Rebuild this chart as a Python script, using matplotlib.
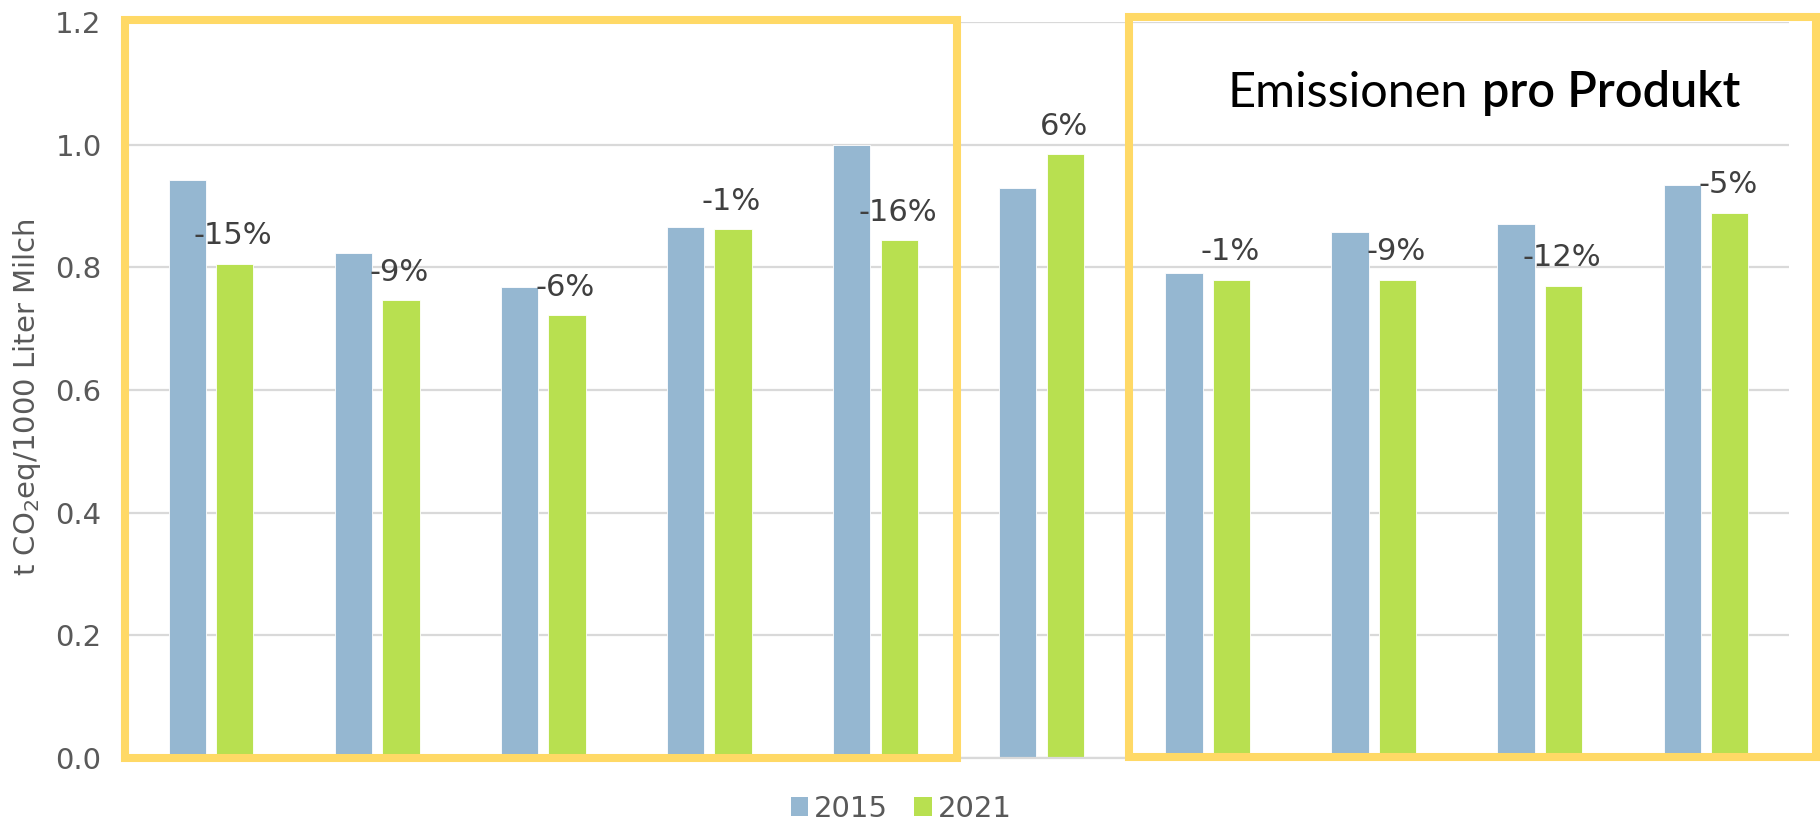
import matplotlib
matplotlib.use('Agg')
import matplotlib.pyplot as plt
from matplotlib.patches import Rectangle, Patch
import numpy as np

# ---- data ----
values_2015 = [0.942, 0.824, 0.768, 0.866, 1.000, 0.930, 0.791, 0.858, 0.870, 0.935]
values_2021 = [0.806, 0.747, 0.722, 0.862, 0.844, 0.985, 0.780, 0.780, 0.770, 0.889]
change_labels = ['-15%', '-9%', '-6%', '-1%', '-16%', '6%', '-1%', '-9%', '-12%', '-5%']
series_names = ['2015', '2021']
y_ticks = [0.0, 0.2, 0.4, 0.6, 0.8, 1.0, 1.2]
y_label = r't CO$_2$eq/1000 Liter Milch'
title_light = 'Emissionen'
title_bold = 'pro Produkt'

# ---- style ----
W, H = 1820, 824
c_blue = '#95B7D1'
c_green = '#B8E050'
c_yellow = '#FFD966'
c_grid = '#D9D9D9'
c_tick = '#595959'
c_lbl = '#404040'

fig = plt.figure(figsize=(W / 100, H / 100), dpi=100)
ax = fig.add_axes([128 / W, 1 - 758 / H, (1789 - 128) / W, (758 - 22) / H])

x = np.arange(len(values_2015))
bw = 0.224
off = 0.143
ax.bar(x - off, values_2015, bw, color=c_blue, edgecolor='white', linewidth=0.6, zorder=2)
ax.bar(x + off, values_2021, bw, color=c_green, edgecolor='white', linewidth=0.6, zorder=2)

for xi, v, lbl in zip(x, values_2021, change_labels):
    ax.annotate(lbl, xy=(xi + off - 0.01, v), xytext=(0, 20), textcoords='offset points',
                ha='center', va='center', fontsize=22, color=c_lbl, zorder=3)

ax.set_xlim(-0.5, len(x) - 0.5)
ax.set_ylim(0, 1.2)
ax.set_yticks(y_ticks)
ax.set_yticklabels([f'{t:.1f}' for t in y_ticks])
ax.set_xticks([])
ax.tick_params(axis='y', length=0, pad=19, labelsize=21, labelcolor=c_tick)
ax.yaxis.grid(True, color=c_grid, linewidth=1.6)
ax.set_axisbelow(True)
for s in ['top', 'right', 'left']:
    ax.spines[s].set_visible(False)
ax.spines['bottom'].set_color(c_grid)
ax.spines['bottom'].set_linewidth(1.6)

fig.text(27 / W, 1 - 397 / H, y_label, rotation=90, ha='center', va='center',
         fontsize=21, color=c_tick)

# legend
handles = [Patch(facecolor=c_blue), Patch(facecolor=c_green)]
fig.legend(handles, series_names, loc='center', bbox_to_anchor=(901 / W, 1 - 809 / H),
           ncol=2, frameon=False, fontsize=21, labelcolor=c_tick,
           handlelength=0.6, handleheight=0.6, handletextpad=0.2, columnspacing=0.9)

# yellow boxes (line centres, in pixels)
lw = 5.8
for (l, r, t, b) in [(125, 957, 20, 758), (1129, 1816, 17, 757)]:
    fig.patches.append(Rectangle((l / W, 1 - b / H), (r - l) / W, (b - t) / H,
                                 transform=fig.transFigure, fill=False,
                                 edgecolor=c_yellow, linewidth=lw, zorder=5))

# title
ty = 1 - 107 / H
t1 = fig.text(1228 / W, ty, title_light, fontsize=35, family=['Lato', 'DejaVu Sans'],
              weight='normal', va='baseline', ha='left', color='black')
r = fig.canvas.get_renderer()
bb = t1.get_window_extent(renderer=r)
gap = 14
fig.text((bb.x1 + gap) / W, ty, title_bold, fontsize=35, family=['Lato', 'DejaVu Sans'],
         weight='semibold', va='baseline', ha='left', color='black')

fig.savefig('out.png', dpi=100)
